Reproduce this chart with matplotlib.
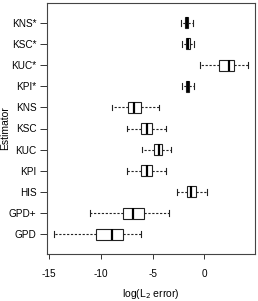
import numpy as np
import matplotlib.pyplot as plt

plt.rcParams['font.family'] = ['Liberation Sans', 'DejaVu Sans']
plt.rcParams['axes.unicode_minus'] = False

# Box statistics, bottom to top
labels = ["GPD", "GPD+", "HIS", "KPI", "KUC", "KSC", "KNS",
          "KPI*", "KUC*", "KSC*", "KNS*"]
whislo = [-14.49, -11.0, -2.6, -7.44, -5.99, -7.44, -8.95, -2.12, -0.42, -2.12, -2.25]
q1     = [-10.49, -7.88, -1.64, -6.09, -4.83, -6.09, -7.34, -1.77, 1.45, -1.77, -1.86]
med    = [-8.95, -6.92, -1.28, -5.50, -4.38, -5.57, -6.76, -1.57, 2.39, -1.57, -1.70]
q3     = [-7.88, -5.80, -0.80, -5.05, -4.06, -5.05, -6.14, -1.45, 2.90, -1.38, -1.55]
whishi = [-6.09, -3.41, 0.23, -3.73, -3.25, -3.73, -4.38, -0.99, 4.25, -0.99, -1.12]

stats = []
for i in range(len(labels)):
    stats.append(dict(label=labels[i], whislo=whislo[i], q1=q1[i], med=med[i],
                      q3=q3[i], whishi=whishi[i], fliers=[]))

fig = plt.figure(figsize=(2.58, 3.01), dpi=100)
ax = fig.add_axes([47/258, 1-254/301, 208/258, 251/301])

pos = np.arange(1, len(labels) + 1)
ax.bxp(stats, positions=pos, vert=False, widths=0.52, patch_artist=True,
       boxprops=dict(facecolor='white', edgecolor='#222222', linewidth=0.8),
       medianprops=dict(color='black', linewidth=1.6),
       whiskerprops=dict(color='#222222', linewidth=0.8, linestyle=(0, (2, 1.5))),
       capprops=dict(color='#222222', linewidth=0.8),
       capwidths=0.26, showfliers=False)

ax.set_xlim(-15.2, 4.9)
ax.set_ylim(0.06, 11.94)
ax.set_xticks([-15, -10, -5, 0])
ax.set_yticks(pos)
ax.set_yticklabels(labels)
ax.tick_params(axis='both', labelsize=7.2, color='#333333', width=0.7)
ax.tick_params(axis='x', length=3.5, pad=7)
ax.tick_params(axis='y', length=5, pad=2.5)
for s in ax.spines.values():
    s.set_color('#444444')
    s.set_linewidth(0.8)

ax.set_xlabel("log(L$_2$ error)", fontsize=7.5, labelpad=6)
ax.set_ylabel("Estimator", fontsize=7.5)
ax.yaxis.set_label_coords(-0.2, 0.5)
ax.yaxis.label.set_verticalalignment('center')

fig.savefig("out.png", dpi=100)
